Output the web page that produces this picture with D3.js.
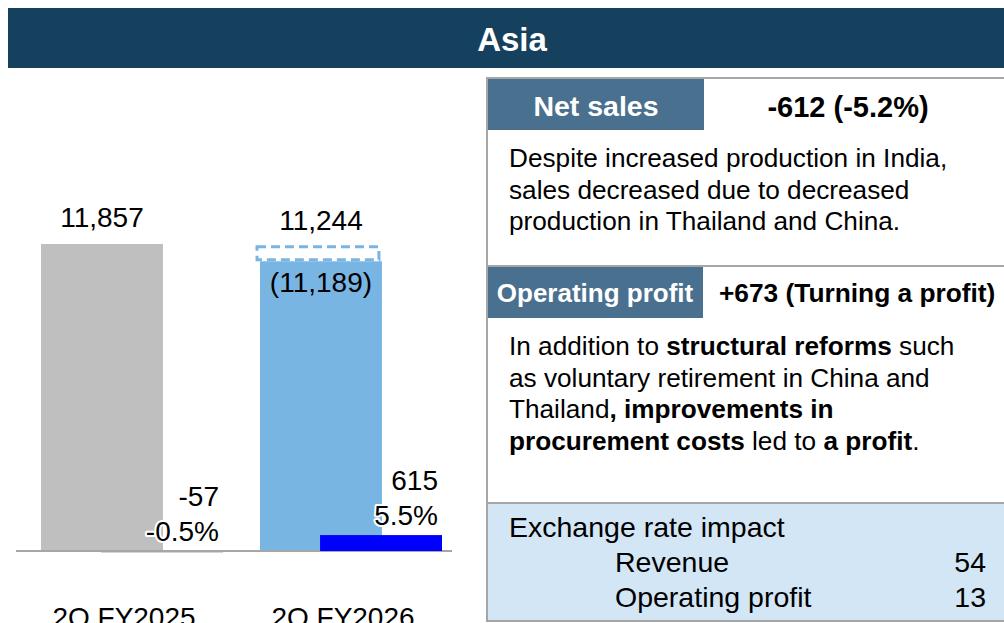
<!DOCTYPE html>
<html><head><meta charset="utf-8">
<script src="https://cdn.jsdelivr.net/npm/d3@7"></script>
<style>body{margin:0;background:#fff;overflow:hidden} svg{display:block;font-family:"Liberation Sans",Arial,Helvetica,sans-serif;}</style>
</head><body><svg id="c" width="1004" height="623"></svg>
<script>
const title = "Asia";
const categories = ["2Q FY2025", "2Q FY2026"];
const netSales = [11857, 11244];
const netSalesInner = [null, 11189];
const opProfit = [-57, 615];
const opMargin = ["-0.5%", "5.5%"];
const salesColors = ["#BFBFBF", "#79B5E3"];
const opColors = ["#A6A6A6", "#0000FF"];
const netSalesChange = "-612 (-5.2%)";
const opProfitChange = "+673 (Turning a profit)";
const salesText = ["Despite increased production in India,", "sales decreased due to decreased", "production in Thailand and China."];
const opText = [
  [["In addition to ", 0], ["structural reforms", 1], [" such", 0]],
  [["as voluntary retirement in China and", 0]],
  [["Thailand", 0], [", improvements in", 1]],
  [["procurement costs", 1], [" led to ", 0], ["a profit", 1], [".", 0]]
];
const fxTitle = "Exchange rate impact";
const fxLabels = ["Revenue", "Operating profit"];
const fxValues = [54, 13];

const svg = d3.select("#c");
const fmt = d3.formatLocale({decimal: ".", thousands: ",", grouping: [3], currency: ["", ""], minus: "-"}).format(",");

// Title bar
svg.append("rect").attr("x", 8).attr("y", 8).attr("width", 1000).attr("height", 60).attr("fill", "#15415F");
svg.append("text").attr("x", 512).attr("y", 51).attr("text-anchor", "middle")
  .attr("font-size", 33).attr("font-weight", "bold").attr("fill", "#fff").text(title);

// Chart
const y = d3.scaleLinear().domain([0, d3.max(netSales)]).range([551, 244]);
const x = d3.scaleBand().domain(categories).range([41, 442]).paddingInner(0.169);
const bw = x.bandwidth();
const salesW = bw * 0.67;
const opOff = bw * 0.33;

const g = svg.append("g");
g.selectAll(".sb").data(categories).join("rect")
  .attr("x", c => x(c)).attr("width", salesW)
  .attr("y", (c, i) => y(netSalesInner[i] != null ? netSalesInner[i] : netSales[i]))
  .attr("height", (c, i) => y(0) - y(netSalesInner[i] != null ? netSalesInner[i] : netSales[i]))
  .attr("fill", (c, i) => salesColors[i]);

categories.forEach((c, i) => {
  if (netSalesInner[i] != null) {
    g.append("rect").attr("x", x(c) - 3).attr("width", salesW)
      .attr("y", y(netSales[i]) - 13).attr("height", 13)
      .attr("fill", "#fff").attr("stroke", salesColors[i]).attr("stroke-width", 3)
      .attr("stroke-dasharray", "9,5");
    g.append("text").attr("x", x(c) + salesW / 2).attr("y", y(netSalesInner[i]) + 31)
      .attr("text-anchor", "middle").attr("font-size", 28).attr("fill", "#000")
      .text("(" + fmt(netSalesInner[i]) + ")");
  }
});

g.selectAll(".sl").data(categories).join("text")
  .attr("x", c => x(c) + salesW / 2)
  .attr("y", (c, i) => (netSalesInner[i] != null ? y(netSales[i]) - 13 : y(netSales[i])) - 17)
  .attr("text-anchor", "middle").attr("font-size", 28).attr("fill", "#000")
  .text((c, i) => fmt(netSales[i]));

g.append("line").attr("x1", 16).attr("x2", 452).attr("y1", y(0)).attr("y2", y(0))
  .attr("stroke", "#A6A6A6").attr("stroke-width", 2);

g.selectAll(".ob").data(categories).join("rect")
  .attr("x", c => x(c) + opOff).attr("width", salesW)
  .attr("y", (c, i) => Math.min(y(opProfit[i]), y(0)))
  .attr("height", (c, i) => Math.abs(y(opProfit[i]) - y(0)))
  .attr("fill", (c, i) => opColors[i]);

categories.forEach((c, i) => {
  const top = Math.min(y(opProfit[i]), y(0));
  const xr = x(c) + opOff + salesW - 4;
  [[fmt(opProfit[i]), top - 45.5], [opMargin[i], top - 10.5]].forEach(([t, yy]) => {
    g.append("text").attr("x", xr).attr("y", yy).attr("text-anchor", "end")
      .attr("font-size", 28).attr("fill", "#000")
      .attr("stroke", "#fff").attr("stroke-width", 4).attr("paint-order", "stroke")
      .attr("stroke-linejoin", "round").text(t);
  });
});

g.selectAll(".cl").data(categories).join("text")
  .attr("x", c => x(c) + bw / 2 - 8).attr("y", 627)
  .attr("text-anchor", "middle").attr("font-size", 28).attr("fill", "#000").text(c => c);

// Right panel
const p = svg.append("g");
p.append("rect").attr("x", 488).attr("y", 504).attr("width", 530).attr("height", 117).attr("fill", "#D3E6F5");
p.append("rect").attr("x", 487).attr("y", 78).attr("width", 540).attr("height", 543)
  .attr("fill", "none").attr("stroke", "#A6A6A6").attr("stroke-width", 2);
[266, 503].forEach(yy => p.append("line").attr("x1", 488).attr("x2", 1004).attr("y1", yy).attr("y2", yy)
  .attr("stroke", "#A6A6A6").attr("stroke-width", 2));

p.append("rect").attr("x", 488).attr("y", 79).attr("width", 216).attr("height", 51).attr("fill", "#4A7090");
p.append("text").attr("x", 596).attr("y", 116).attr("text-anchor", "middle").attr("font-size", 28.5)
  .attr("font-weight", "bold").attr("fill", "#fff").text("Net sales");
p.append("text").attr("x", 848).attr("y", 117).attr("text-anchor", "middle").attr("font-size", 29)
  .attr("font-weight", "bold").attr("fill", "#000").text(netSalesChange);
salesText.forEach((t, i) => p.append("text").attr("x", 509).attr("y", 167 + i * 31.5)
  .attr("font-size", 26.2).attr("fill", "#000").text(t));

p.append("rect").attr("x", 488).attr("y", 267).attr("width", 215).attr("height", 51).attr("fill", "#4A7090");
p.append("text").attr("x", 595).attr("y", 302).attr("text-anchor", "middle").attr("font-size", 26)
  .attr("font-weight", "bold").attr("fill", "#fff").text("Operating profit");
p.append("text").attr("x", 719).attr("y", 302).attr("font-size", 26.3)
  .attr("font-weight", "bold").attr("fill", "#000").text(opProfitChange);
opText.forEach((line, i) => {
  const t = p.append("text").attr("x", 509).attr("y", 355 + i * 31.5).attr("font-size", 26.2).attr("fill", "#000");
  line.forEach(([s, b]) => t.append("tspan").attr("font-weight", b ? "bold" : "normal").text(s));
});

p.append("text").attr("x", 509).attr("y", 537).attr("font-size", 28.5).attr("fill", "#000").text(fxTitle);
fxLabels.forEach((l, i) => {
  p.append("text").attr("x", 615).attr("y", 572 + i * 34.5).attr("font-size", 28.5).attr("fill", "#000").text(l);
  p.append("text").attr("x", 986).attr("y", 572 + i * 34.5).attr("text-anchor", "end").attr("font-size", 28.5).attr("fill", "#000").text(fxValues[i]);
});
</script></body></html>
